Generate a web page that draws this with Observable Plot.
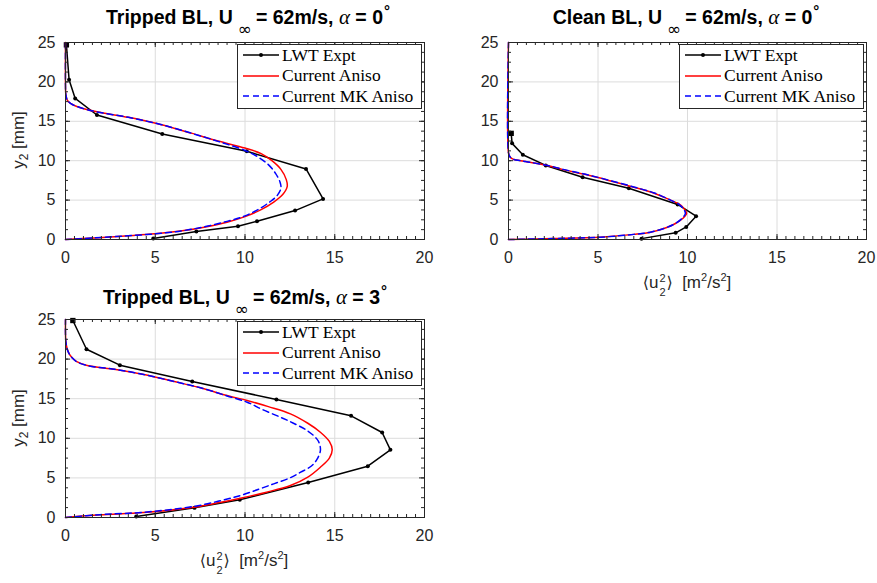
<!DOCTYPE html>
<html><head><meta charset="utf-8">
<script src="https://cdn.jsdelivr.net/npm/d3@7"></script>
<script src="https://cdn.jsdelivr.net/npm/@observablehq/plot@0.6"></script>
<style>
body{margin:0;background:#fff;}
#wrap{position:relative;width:877px;height:583px;overflow:hidden;font-family:"Liberation Sans",Arial,sans-serif;color:#000;}
.panel{position:absolute;}
.panel svg{overflow:visible;}
.title{position:absolute;transform:translateX(-50%);white-space:nowrap;font-weight:bold;font-size:19.5px;line-height:19px;}
.title .inf{font-family:"DejaVu Sans";font-weight:normal;font-size:17px;position:relative;top:11px;margin:0 4px 0 5px;}
.title .al{font-family:"Liberation Serif";font-style:italic;font-weight:normal;font-size:21px;}
.title .deg{position:relative;top:-8px;font-size:15px;margin-left:1px;}
.ylab{position:absolute;transform:translate(-50%,-50%) rotate(-90deg);white-space:nowrap;font-size:17px;color:#262626;}
.ylab sub{font-size:12px;vertical-align:-4px;}
.xlab{position:absolute;transform:translateX(-50%);white-space:nowrap;font-size:17px;line-height:20px;color:#262626;}
.xlab .br{font-family:"DejaVu Sans";font-weight:normal;font-size:16px;}
.xlab .ss{position:relative;display:inline-block;width:8px;height:1px;}
.xlab .ss .a,.xlab .ss .b{position:absolute;left:1px;font-size:11px;line-height:11px;}
.xlab .ss .a{top:-14px;}
.xlab .ss .b{top:0px;}
.xlab sup{font-size:11px;vertical-align:7px;line-height:0;}
.leg{position:absolute;box-sizing:border-box;border:1px solid #262626;background:#fff;font-family:"Liberation Serif",serif;font-size:17.5px;}
.leg .row{position:absolute;left:5px;height:20px;display:flex;align-items:center;white-space:nowrap;}
.leg .row svg{margin-right:2px;}
</style></head>
<body>
<div id="wrap"></div>
<script>
// ---------- data ----------
const xMajor = [0, 5, 10, 15, 20];
const yMajor = [0, 5, 10, 15, 20, 25];
const seriesNames = ["LWT Expt", "Current Aniso", "Current MK Aniso"];

// Panel A: Tripped BL, alpha = 0
const lwtA_u = [0.05, 0.2, 0.54, 1.75, 5.39, 10.1, 13.4, 14.35, 12.79, 10.67, 9.61, 7.29, 4.89];
const lwtA_y = [24.7, 20.27, 17.9, 15.8, 13.39, 11.19, 8.95, 5.15, 3.67, 2.32, 1.69, 1.01, 0.13];
const anisoA_u = [0, 1.6, 3.3, 5.0, 6.5, 7.8, 9.0, 10.0, 10.9, 11.6, 12.1, 12.35, 12.3, 12.0, 11.5, 10.9, 10.0, 8.5, 7.0, 5.3, 3.5, 1.75, 0.8, 0.3, 0.1, 0.02, 0, 0];
const anisoA_y = [0, 0.2, 0.45, 0.72, 1.1, 1.6, 2.2, 2.9, 3.8, 4.75, 5.7, 6.7, 7.6, 8.9, 10.0, 10.9, 11.6, 12.5, 13.5, 14.6, 15.5, 16.2, 16.75, 17.25, 17.7, 18.4, 19.5, 25];
const mkA_u = [0, 1.6, 3.3, 5.0, 6.5, 7.8, 9.0, 10.0, 10.8, 11.4, 11.8, 12.0, 11.95, 11.7, 11.3, 10.7, 10.0, 8.5, 7.0, 5.3, 3.5, 1.75, 0.8, 0.3, 0.1, 0.02, 0, 0];
const mkA_y = [0, 0.2, 0.45, 0.72, 1.1, 1.65, 2.3, 3.0, 3.9, 4.8, 5.6, 6.5, 7.3, 8.4, 9.5, 10.5, 11.3, 12.45, 13.5, 14.6, 15.5, 16.2, 16.75, 17.25, 17.7, 18.4, 19.5, 25];

// Panel B: Clean BL, alpha = 0
const lwtB_u = [0.15, 0.2, 0.8, 2.08, 4.14, 6.72, 9.45, 10.48, 9.93, 9.34, 7.43];
const lwtB_y = [13.47, 12.2, 10.76, 9.4, 7.9, 6.5, 4.45, 2.96, 1.6, 0.85, 0.11];
const anisoB_u = [0, 2.5, 5.14, 7.0, 7.93, 8.8, 9.3, 9.75, 9.95, 9.85, 9.6, 9.05, 8.1, 7.0, 5.6, 4.2, 3.0, 2.16, 1.2, 0.67, 0.25, 0.08, 0, 0];
const anisoB_y = [0, 0.12, 0.3, 0.65, 0.93, 1.5, 2.0, 2.7, 3.3, 3.8, 4.4, 5.0, 5.9, 6.64, 7.5, 8.3, 8.9, 9.39, 9.8, 10.0, 10.2, 10.5, 11, 25];
const mkB_u = [0, 2.5, 5.14, 7.0, 7.93, 8.8, 9.3, 9.7, 9.88, 9.8, 9.55, 9.05, 8.15, 7.05, 5.65, 4.25, 3.05, 2.2, 1.2, 0.67, 0.25, 0.08, 0, 0];
const mkB_y = [0, 0.12, 0.3, 0.65, 0.93, 1.5, 2.0, 2.7, 3.3, 3.8, 4.4, 5.0, 5.9, 6.64, 7.5, 8.3, 8.9, 9.39, 9.8, 10.0, 10.2, 10.5, 11, 25];

// Panel C: Tripped BL, alpha = 3
const lwtC_u = [0.41, 1.17, 3.03, 7.06, 11.75, 15.91, 17.64, 18.1, 16.84, 13.52, 9.71, 7.19, 3.94];
const lwtC_y = [24.87, 21.25, 19.23, 17.17, 14.9, 12.84, 10.73, 8.54, 6.48, 4.42, 2.23, 1.22, 0.13];
const anisoC_u = [0, 1.93, 4.35, 7.15, 8.5, 9.75, 11.2, 12.53, 13.5, 14.2, 14.7, 14.86, 14.7, 14.2, 13.5, 12.53, 11.3, 10.12, 9.0, 7.52, 6.0, 4.36, 2.8, 1.21, 0.6, 0.37, 0.2, 0.09, 0.02, 0, 0];
const anisoC_y = [0, 0.34, 0.62, 1.3, 1.85, 2.44, 3.2, 4.04, 5.1, 6.35, 7.5, 8.54, 9.6, 10.77, 11.9, 13.09, 14.0, 14.77, 15.4, 16.38, 17.2, 18.06, 18.7, 19.19, 19.7, 20.16, 20.7, 21.3, 22.2, 23.2, 25];
const mkC_u = [0, 1.93, 4.35, 7.15, 8.5, 9.75, 10.8, 11.6, 12.5, 13.1, 13.7, 14.0, 14.2, 14.15, 14.0, 13.46, 12.7, 11.98, 11.0, 10.12, 9.0, 7.52, 6.0, 4.36, 2.8, 1.21, 0.6, 0.37, 0.2, 0.09, 0.02, 0, 0];
const mkC_y = [0, 0.36, 0.66, 1.4, 2.05, 2.78, 3.6, 4.25, 5.0, 5.72, 6.5, 7.3, 8.45, 9.3, 9.93, 10.98, 11.9, 12.66, 13.6, 14.56, 15.35, 16.38, 17.2, 18.06, 18.7, 19.19, 19.7, 20.16, 20.7, 21.3, 22.2, 23.2, 25];

// ---------- drawing ----------
const pts = (us, ys) => us.map((u, i) => ({u, y: ys[i]}));
const xMinor = d3.range(0, 20.001, 0.5);
const yMinor = d3.range(0, 25.001, 1.25);
const wrap = document.getElementById("wrap");

function panel({left, top, width, height, mL, mR, mT, mB, lwt, aniso, mk}) {
  const iw = width - mL - mR, ih = height - mT - mB;
  const tickStyle = {stroke: "#262626", strokeWidth: 1};
  const chart = Plot.plot({
    width, height, marginLeft: mL, marginRight: mR, marginTop: mT, marginBottom: mB,
    style: {fontFamily: '"Liberation Sans", Arial, sans-serif', fontSize: "16px", background: "transparent", color: "#262626", overflow: "visible"},
    x: {domain: [0, 20]},
    y: {domain: [0, 25]},
    marks: [
      Plot.ruleX(xMajor, {x: d => d, stroke: "#dcdcdc", strokeWidth: 1}),
      Plot.ruleY(yMajor, {y: d => d, stroke: "#dcdcdc", strokeWidth: 1}),
      Plot.line(lwt, {x: "u", y: "y", stroke: "black", strokeWidth: 1.5}),
      Plot.dot(lwt, {x: "u", y: "y", r: 2, fill: "black", stroke: null}),
      Plot.dot(lwt.slice(0, 1), {x: "u", y: "y", r: 3, symbol: "square", fill: "black", stroke: null}),
      Plot.line(aniso, {x: "u", y: "y", stroke: "#ff0000", strokeWidth: 1.5, curve: "catmull-rom"}),
      Plot.line(mk, {x: "u", y: "y", stroke: "#0000ff", strokeWidth: 1.5, strokeDasharray: "6,4", curve: "catmull-rom"}),
      // inward ticks on all four sides
      Plot.tickX(xMajor, {x: d => d, ...tickStyle, insetTop: ih - 5}),
      Plot.tickX(xMajor, {x: d => d, ...tickStyle, insetBottom: ih - 5}),
      Plot.tickX(xMinor, {x: d => d, ...tickStyle, insetTop: ih - 3}),
      Plot.tickX(xMinor, {x: d => d, ...tickStyle, insetBottom: ih - 3}),
      Plot.tickY(yMajor, {y: d => d, ...tickStyle, insetRight: iw - 5}),
      Plot.tickY(yMajor, {y: d => d, ...tickStyle, insetLeft: iw - 5}),
      Plot.tickY(yMinor, {y: d => d, ...tickStyle, insetRight: iw - 3}),
      Plot.tickY(yMinor, {y: d => d, ...tickStyle, insetLeft: iw - 3}),
      Plot.frame({stroke: "#262626", strokeWidth: 1}),
      Plot.axisX(xMajor, {tickSize: 0, tickPadding: 12, label: null, fontSize: 16, fill: "#262626"}),
      Plot.axisY(yMajor, {tickSize: 0, tickPadding: 10, label: null, fontSize: 16, fill: "#262626"})
    ]
  });
  const d = document.createElement("div");
  d.className = "panel";
  d.style.left = left + "px"; d.style.top = top + "px";
  d.appendChild(chart);
  wrap.appendChild(d);
}

function addHTML(html) { wrap.insertAdjacentHTML("beforeend", html); }

function legend(left, top) {
  const sw = [
    `<svg width="37" height="20"><line x1="0" y1="10" x2="36" y2="10" stroke="black" stroke-width="1.5"/><circle cx="18" cy="10" r="2" fill="black"/></svg>`,
    `<svg width="37" height="20"><line x1="0" y1="10" x2="36" y2="10" stroke="#ff0000" stroke-width="1.5"/></svg>`,
    `<svg width="37" height="20"><line x1="0" y1="10" x2="36" y2="10" stroke="#0000ff" stroke-width="1.5" stroke-dasharray="6,4"/></svg>`
  ];
  const tops = [0, 20.5, 41];
  let h = `<div class="leg" style="left:${left}px;top:${top}px;width:185px;height:65px">`;
  seriesNames.forEach((n, i) => { h += `<div class="row" style="top:${tops[i]}px">${sw[i]}<span>${n}</span></div>`; });
  addHTML(h + `</div>`);
}

function title(cx, top, prefix, alpha) {
  addHTML(`<div class="title" style="left:${cx}px;top:${top}px">${prefix}, U<span class="inf">∞</span>= 62m/s, <span class="al">α</span> = ${alpha}<span class="deg">°</span></div>`);
}
function ylabel(cx, cy) {
  addHTML(`<div class="ylab" style="left:${cx}px;top:${cy}px">y<sub>2</sub> [mm]</div>`);
}
function xlabel(cx, top) {
  addHTML(`<div class="xlab" style="left:${cx}px;top:${top}px"><span class="br">⟨</span>u<span class="ss"><span class="a">2</span><span class="b">2</span></span><span class="br">⟩</span>&nbsp; [m<sup>2</sup>/s<sup>2</sup>]</div>`);
}

panel({left: 0, top: 0, width: 440, height: 262, mL: 65, mR: 16, mT: 42, mB: 23,
  lwt: pts(lwtA_u, lwtA_y), aniso: pts(anisoA_u, anisoA_y), mk: pts(mkA_u, mkA_y)});
panel({left: 440, top: 0, width: 437, height: 262, mL: 68, mR: 11, mT: 42, mB: 23,
  lwt: pts(lwtB_u, lwtB_y), aniso: pts(anisoB_u, anisoB_y), mk: pts(mkB_u, mkB_y)});
panel({left: 0, top: 280, width: 440, height: 260, mL: 65, mR: 16, mT: 39, mB: 23,
  lwt: pts(lwtC_u, lwtC_y), aniso: pts(anisoC_u, anisoC_y), mk: pts(mkC_u, mkC_y)});

title(248, 8, "Tripped BL", "0");
title(686, 8, "Clean BL", "0");
title(245, 288, "Tripped BL", "3");
ylabel(20, 140);
ylabel(20, 418);
xlabel(687, 273);
xlabel(244, 551);
legend(237, 44);
legend(679, 44);
legend(237, 321);
</script>
</body></html>
